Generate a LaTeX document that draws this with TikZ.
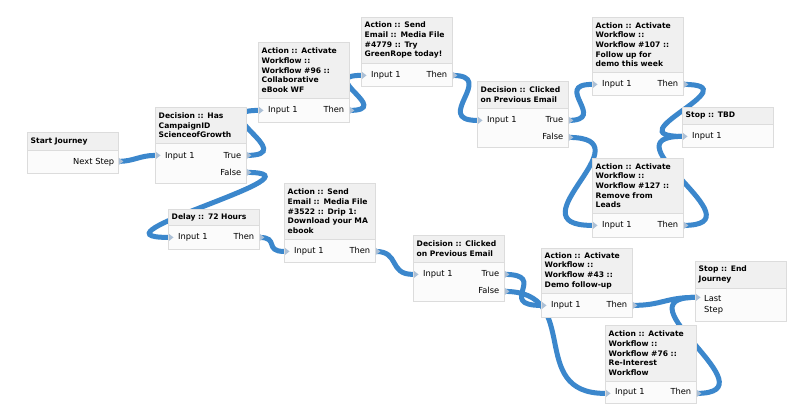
\documentclass[tikz,border=0pt]{standalone}
\usepackage{fontspec}
\setmainfont{DejaVu Sans}
\usetikzlibrary{positioning,calc,backgrounds}

\definecolor{flowblue}{RGB}{59,135,204}
\definecolor{boxline}{RGB}{220,220,220}
\definecolor{headfill}{RGB}{240,240,240}
\definecolor{bodyfill}{RGB}{251,251,251}
\definecolor{portgray}{RGB}{172,192,214}

\tikzset{
  head/.style={draw=boxline, fill=headfill, anchor=north west, text width=84pt,
    inner xsep=3.5pt, inner ysep=0pt, align=left, font=\fontsize{7.6}{9.7}\selectfont\bfseries},
  body/.style={draw=boxline, fill=bodyfill, below=0pt of #1, text width=91pt,
    inner xsep=0pt, inner ysep=0pt, align=left, font=\fontsize{8.3}{17}\selectfont},
  flow/.style={draw=flowblue, line width=5pt, line cap=round},
  port/.style={fill=portgray},
}

\begin{document}
\begin{tikzpicture}[x=1pt,y=-1pt]
\useasboundingbox (0,0) rectangle (800,418);

% journey steps
\node[head, minimum height=18] (start) at (27,132) {Start Journey};
\node[body=start, minimum height=23] (startb) {\hspace*{\fill}Next Step\kern4pt};

\node[head, minimum height=36] (d1) at (155,107) {Decision :: Has\\CampaignID\\ScienceofGrowth};
\node[body=d1, minimum height=40] (d1b) {\hspace*{10pt}Input 1\hfill True\kern5pt\\\hspace*{\fill}False\kern5pt};

\node[head, minimum height=56] (a96) at (258,42) {Action :: Activate\\Workflow ::\\Workflow \#96 ::\\Collaborative\\eBook WF};
\node[body=a96, minimum height=24] (a96b) {\hspace*{10pt}Input 1\hfill Then\kern5pt};

\node[head, minimum height=46] (a4779) at (361,17) {Action :: Send\\Email :: Media File\\\#4779 :: Try\\GreenRope today!};
\node[body=a4779, minimum height=23] (a4779b) {\hspace*{10pt}Input 1\hfill Then\kern5pt};

\node[head, minimum height=27] (dtop) at (477,81) {Decision :: Clicked\\on Previous Email};
\node[body=dtop, minimum height=39] (dtopb) {\hspace*{10pt}Input 1\hfill True\kern5pt\\\hspace*{\fill}False\kern5pt};

\node[head, minimum height=55] (a107) at (592,17) {Action :: Activate\\Workflow ::\\Workflow \#107 ::\\Follow up for\\demo this week};
\node[body=a107, minimum height=23] (a107b) {\hspace*{10pt}Input 1\hfill Then\kern5pt};

\node[head, minimum height=17] (tbd) at (682,107) {Stop :: TBD};
\node[body=tbd, minimum height=23] (tbdb) {\hspace*{10pt}Input 1};

\node[head, minimum height=55] (a127) at (592,158) {Action :: Activate\\Workflow ::\\Workflow \#127 ::\\Remove from\\Leads};
\node[body=a127, minimum height=24] (a127b) {\hspace*{10pt}Input 1\hfill Then\kern5pt};

\node[head, minimum height=16] (delay) at (168,209) {Delay :: 72 Hours};
\node[body=delay, minimum height=24] (delayb) {\hspace*{10pt}Input 1\hfill Then\kern5pt};

\node[head, minimum height=56] (a3522) at (284,183) {Action :: Send\\Email :: Media File\\\#3522 :: Drip 1:\\Download your MA\\ebook};
\node[body=a3522, minimum height=23] (a3522b) {\hspace*{10pt}Input 1\hfill Then\kern5pt};

\node[head, minimum height=27] (dbot) at (413,235) {Decision :: Clicked\\on Previous Email};
\node[body=dbot, minimum height=39] (dbotb) {\hspace*{10pt}Input 1\hfill True\kern5pt\\\hspace*{\fill}False\kern5pt};

\node[head, minimum height=45] (a43) at (541,248) {Action :: Activate\\Workflow ::\\Workflow \#43 ::\\Demo follow-up};
\node[body=a43, minimum height=24] (a43b) {\hspace*{10pt}Input 1\hfill Then\kern5pt};

\node[head, minimum height=27] (stopend) at (695,261) {Stop :: End\\Journey};
\node[body=stopend, minimum height=33, font=\fontsize{8.3}{11}\selectfont] (stopendb) {\hspace*{9pt}Last\\\hspace*{9pt}Step};

\node[head, minimum height=56] (a76) at (605,325) {Action :: Activate\\Workflow ::\\Workflow \#76 ::\\Re-Interest\\Workflow};
\node[body=a76, minimum height=22] (a76b) {\hspace*{10pt}Input 1\hfill Then\kern5pt};

% ports
\coordinate (start-next) at ($(startb.north east)+(0,11)$);
\foreach \n in {d1,dtop,dbot} {
  \coordinate (\n-in) at ($(\n b.north west)+(0,12)$);
  \coordinate (\n-true) at ($(\n b.north east)+(0,12)$);
  \coordinate (\n-false) at ($(\n b.north east)+(0,29)$);
}
\foreach \n in {a96,a4779,a107,a127,delay,a3522,a43,a76} {
  \coordinate (\n-in) at ($(\n b.north west)+(0,12)$);
  \coordinate (\n-then) at ($(\n b.north east)+(0,12)$);
}
\coordinate (tbd-in) at ($(tbdb.north west)+(0,12)$);
\coordinate (stopend-in) at ($(stopendb.north west)+(0,9)$);

% connectors
\begin{scope}[on background layer]
\fill[white] (0,0) rectangle (800,418);
\foreach \a/\b/\c in {start-next/d1-in/15, d1-true/a96-in/55, d1-false/delay-in/88,
    a96-then/a4779-in/45, a4779-then/dtop-in/45, dtop-true/a107-in/40,
    dtop-false/a127-in/82, a107-then/tbd-in/70, a127-then/tbd-in/80,
    delay-then/a3522-in/20, a3522-then/dbot-in/25, dbot-true/a43-in/45,
    dbot-false/a76-in/80, a43-then/stopend-in/30, a76-then/stopend-in/80}
  \draw[flow] (\a) .. controls +(\c,0) and +(-\c,0) .. (\b);
\end{scope}

\foreach \p in {d1-in,a96-in,a4779-in,dtop-in,a107-in,tbd-in,a127-in,
    delay-in,a3522-in,dbot-in,a43-in,stopend-in,a76-in}
  \fill[port] (\p) ++(1,-3.5) -- ++(4.5,3.5) -- ++(-4.5,3.5) -- cycle;
\foreach \p in {start-next,d1-true,d1-false,dtop-true,dtop-false,dbot-true,dbot-false,
    a96-then,a4779-then,a107-then,a127-then,delay-then,a3522-then,a43-then,a76-then}
  \fill[port] (\p) ++(0.5,-3.5) -- ++(4.5,3.5) -- ++(-4.5,3.5) -- cycle;
\end{tikzpicture}
\end{document}
